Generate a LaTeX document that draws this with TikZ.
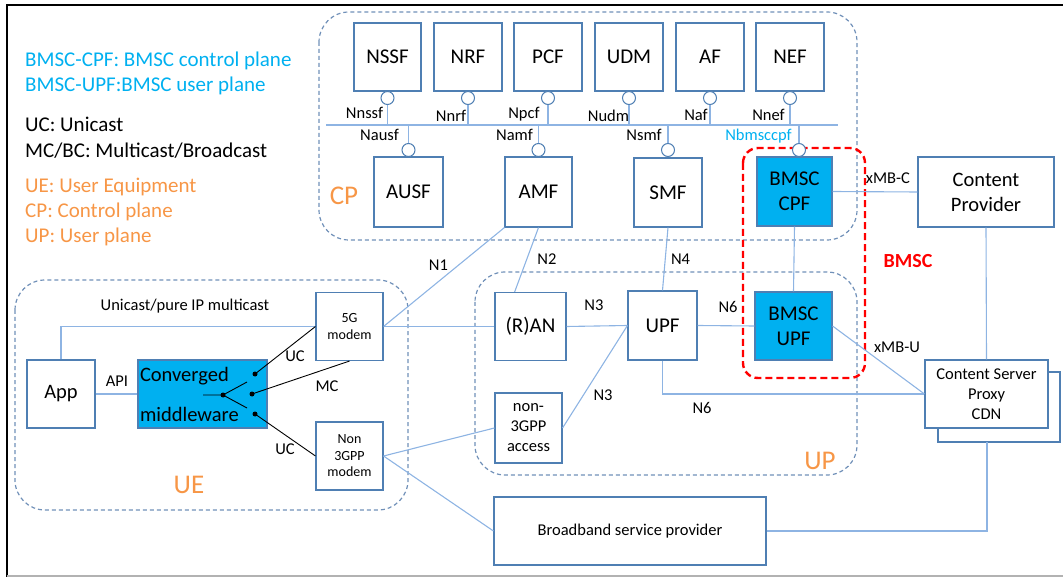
\documentclass[tikz,border=0pt]{standalone}
\usepackage{fontspec}
\setmainfont{Carlito}
\usetikzlibrary{calc}
\definecolor{boxc}{HTML}{4F7FB3}
\definecolor{linec}{HTML}{8EB4E3}
\definecolor{dashc}{HTML}{7090B8}
\definecolor{cyanf}{HTML}{00B0F0}
\definecolor{orng}{HTML}{F79646}
\definecolor{redc}{HTML}{FF0000}
\newcommand{\fBig}{\fontsize{21}{25}\selectfont}
\newcommand{\fLbl}{\fontsize{16.5}{20}\selectfont}
\newcommand{\fSm}{\fontsize{14}{16.5}\selectfont}
\newcommand{\fHuge}{\fontsize{27}{30}\selectfont}
\begin{document}
\begin{tikzpicture}[x=1pt,y=-1pt,
  box/.style={draw=boxc, line width=1.1pt, fill=white, inner sep=1pt, align=center, font=\fBig},
  cbox/.style={box, fill=cyanf},
  conn/.style={draw=linec, line width=1.1pt},
  blk/.style={draw=black, line width=0.9pt},
  region/.style={draw=dashc, line width=1.2pt, dash pattern=on 4pt off 3pt, rounded corners=30pt},
  redregion/.style={draw=redc, line width=2.4pt, dash pattern=on 7pt off 4pt, rounded corners=15pt},
  ifc/.style={circle, draw=boxc, line width=1pt, fill=white, minimum size=13pt, inner sep=0pt},
  dot/.style={circle, fill=black, minimum size=5pt, inner sep=0pt},
  lbl/.style={font=\fLbl, inner sep=0pt, text height=10.6pt, text depth=0pt},
  leg/.style={font=\fBig, anchor=west, inner sep=0pt, text height=13.5pt, text depth=0pt},
  big/.style={font=\fHuge, text=orng, inner sep=0pt, text height=17.4pt, text depth=0pt}
]
\useasboundingbox (0,0) rectangle (1063,577);
% frame
\draw[black, line width=2.5pt] (7,577) -- (7,5) -- (1063,5);
\draw[black!30, line width=1.5pt] (7,576) -- (1063,576);

% legend
\node[leg, text=cyanf] (lg1) at (25,60) {BMSC-CPF: BMSC control plane};
\node[leg, text=cyanf] (lg2) at (25,85) {BMSC-UPF:BMSC user plane};
\node[leg] (lg3) at (25,125) {UC: Unicast};
\node[leg] (lg4) at (25,151) {MC/BC: Multicast/Broadcast};
\node[leg, text=orng] (lg5) at (25,186) {UE: User Equipment};
\node[leg, text=orng] (lg6) at (25,211) {CP: Control plane};
\node[leg, text=orng] (lg7) at (25,236) {UP: User plane};

% regions
\draw[region] (319,12) rectangle (857,240);
\draw[region] (475,272) rectangle (857,475);
\draw[region] (15,280) rectangle (408,510);
\draw[redregion] (743,148) rectangle (865,378);
\node[big] (cpt) at (344,196) {CP};
\node[big] (upt) at (820,461) {UP};
\node[big] (uet) at (189,485) {UE};
\node[font=\bfseries\fontsize{20}{24}\selectfont, text=redc, inner sep=0pt, text height=12.9pt, text depth=0pt] (bmsct) at (908,261) {BMSC};

% CP top row
\node[box, minimum width=67pt, minimum height=68pt] (nssf) at (387.5,57) {NSSF};
\node[box, minimum width=68pt, minimum height=68pt] (nrf) at (468,57) {NRF};
\node[box, minimum width=68pt, minimum height=68pt] (pcf) at (548,57) {PCF};
\node[box, minimum width=68pt, minimum height=68pt] (udm) at (629,57) {UDM};
\node[box, minimum width=68pt, minimum height=68pt] (af) at (710,57) {AF};
\node[box, minimum width=68pt, minimum height=68pt] (nef) at (790,57) {NEF};
% CP bottom row
\node[box, minimum width=69pt, minimum height=70pt] (ausf) at (408.5,192) {AUSF};
\node[box, minimum width=67pt, minimum height=70pt] (amf) at (538.5,192) {AMF};
\node[box, minimum width=68pt, minimum height=69pt] (smf) at (668,192.5) {SMF};
\node[cbox, minimum width=75pt, minimum height=69pt] (cpf) at (794.5,191.5) {BMSC\\CPF};

% bus
\coordinate (busL) at (326,125);
\coordinate (busR) at (838,125);
\draw[conn] (busL) -- (busR);
\foreach \n/\x in {nssf/387.5, nrf/468, pcf/548, udm/629, af/710, nef/790}{
  \node[ifc] (i\n) at (\x,98) {};
  \draw[conn] (i\n.south) -- (i\n.south |- busL);
}
\foreach \n/\x in {ausf/408.5, amf/538.5, smf/668, cpf/799}{
  \node[ifc] (i\n) at (\x,150) {};
  \draw[conn] (i\n.north) -- (i\n.north |- busL);
}
\node[lbl] (lnssf) at (364.5,113) {Nnssf};
\node[lbl] (lnrf) at (451,116) {Nnrf};
\node[lbl] (lpcf) at (524,113) {Npcf};
\node[lbl] (ludm) at (608.5,116) {Nudm};
\node[lbl] (laf) at (696,115) {Naf};
\node[lbl] (lnef) at (768.5,115) {Nnef};
\node[lbl] (lausf) at (379.5,135) {Nausf};
\node[lbl] (lamf) at (514.5,135) {Namf};
\node[lbl] (lsmf) at (644,135) {Nsmf};
\node[lbl, text=cyanf] (lcpf) at (758.5,135) {Nbmsccpf};

% UP
\node[box, minimum width=71pt, minimum height=68pt] (ran) at (530.5,326.5) {(R)AN};
\node[box, minimum width=69pt, minimum height=69pt] (upf) at (662.5,325.5) {UPF};
\node[cbox, minimum width=77pt, minimum height=68pt] (bupf) at (793.5,326) {BMSC\\UPF};
\node[box, font=\fLbl, minimum width=67pt, minimum height=70pt, align=center] (n3a) at (528.5,428) {non-\\3GPP\\access};

% right side
\node[box, font=\fontsize{20.5}{25}\selectfont, minimum width=136pt, minimum height=70pt] (cprov) at (986,192) {Content\\Provider};
\node[box, minimum width=122pt, minimum height=70pt] (csb) at (999,407) {};
\node[box, font=\fLbl, minimum width=123pt, minimum height=68pt] (cs) at (986.5,394) {Content Server\\Proxy\\CDN};
\node[box, font=\fLbl, minimum width=272pt, minimum height=68pt] (bb) at (630,531) {Broadband service provider};

% UE
\node[box, font=\fontsize{20.5}{25}\selectfont, minimum width=68pt, minimum height=68pt] (app) at (61,394) {App};
\node[cbox, font=\fontsize{20.5}{40}\selectfont, minimum width=129pt, minimum height=68pt, text width=125pt, align=left, inner sep=2pt] (mw) at (202.5,394) {Converged\\middleware};
\node[box, font=\fSm, minimum width=67pt, minimum height=68pt] (m5g) at (349.5,326.5) {5G\\modem};
\node[box, font=\fSm, minimum width=67pt, minimum height=68pt] (nmod) at (349.5,456) {Non\\3GPP\\modem};

% connectors
\draw[conn] (app.north) |- (m5g.west);
\draw[conn] (m5g.east) -- (ran.west);
\draw[conn] (app.east) -- (mw.west);
\draw[conn] (m5g.east) -- (amf.south west);
\draw[conn] (amf.south) -- ($(ran.north west)!0.28!(ran.north east)$);
\draw[conn] (smf.south) -- (upf.north);
\draw[conn] (ran.east) -- (upf.west);
\draw[conn] (upf.east) -- (bupf.west);
\draw[conn] (n3a.east) -- (upf.west);
\draw[conn] (upf.south) |- (cs.west);
\draw[conn] (bupf.east) -- (cs.west);
\draw[conn] (cpf.east) -- (cprov.west);
\draw[conn] (cpf.south) -- (bupf.north);
\draw[conn] (cprov.south) -- (cs.north);
\coordinate (csbot) at (987,442);
\draw[conn] (bb.east) -| (csbot);
\draw[conn] (nmod.east) -- (n3a.west);
\draw[conn] (nmod.east) -- (bb.west);

% switch in middleware
\coordinate (sw0) at (203,395);
\node[dot] (dj) at (223,395) {};
\coordinate (swa) at (247,382);
\coordinate (swb) at (247,408);
\node[dot] (d1) at (255,374) {};
\node[dot] (d2) at (252,394) {};
\node[dot] (d3) at (255,414) {};
\draw[blk] (sw0) -- (dj.center) -- (swa);
\draw[blk] (dj.center) -- (swb);
\draw[blk] (d1.center) -- (m5g.west);
\draw[blk] (d2.center) -- (m5g.south);
\draw[blk] (d3.center) -- (nmod.west);

% labels
\node[lbl] (luni) at (185,305) {Unicast/pure IP multicast};
\node[lbl] (lapi) at (117,381) {API};
\node[lbl] (luc1) at (295,356) {UC};
\node[lbl] (lmc) at (327,386) {MC};
\node[lbl] (luc2) at (285,449) {UC};
\node[lbl] (ln1) at (438.5,265.5) {N1};
\node[lbl] (ln2) at (547,259.5) {N2};
\node[lbl] (ln4) at (680.5,259.5) {N4};
\node[lbl] (ln3a) at (594,305.5) {N3};
\node[lbl] (ln6a) at (728,307) {N6};
\node[lbl] (ln3b) at (603,395) {N3};
\node[lbl] (ln6b) at (702,408) {N6};
\node[lbl] (lxmbc) at (888,178) {xMB-C};
\node[lbl] (lxmbu) at (897,347) {xMB-U};
\end{tikzpicture}
\end{document}
